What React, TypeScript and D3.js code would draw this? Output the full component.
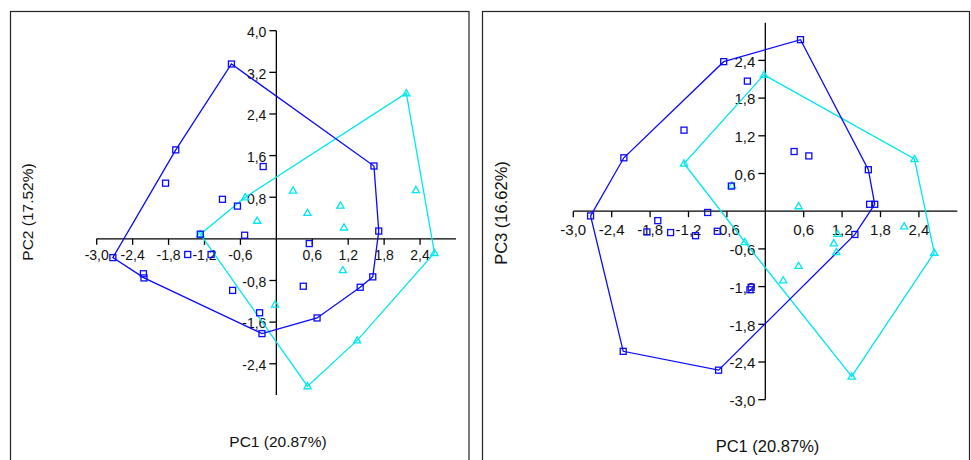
import React from 'react';
import * as d3 from 'd3';

// group 1 (blue squares) scores
const bluePC1 = [-2.73, -2.22, -2.21, -1.85, -1.68, -1.48, -1.27, -1.09, -0.90, -0.75, -0.73, -0.65, -0.53, -0.28, -0.24, -0.22, 0.45, 0.55, 0.68, 1.40, 1.61, 1.63, 1.71];
const bluePC2 = [-0.36, -0.67, -0.75, 1.07, 1.71, -0.30, 0.09, -0.30, 0.76, 3.36, -0.99, 0.63, 0.07, -1.42, -1.82, 1.39, -0.91, -0.09, -1.52, -0.93, -0.73, 1.40, 0.15];
const bluePC3 = [-0.075, -2.23, 0.85, -0.33, -0.15, -0.34, 1.29, -0.39, -0.02, -0.32, -2.53, 2.38, 0.40, 2.07, -1.25, -1.21, 0.95, 2.73, 0.88, -0.37, 0.66, 0.11, 0.11];

// group 2 (cyan triangles) scores
const cyanPC1 = [-1.27, -0.52, -0.32, -0.02, 0.28, 0.52, 0.52, 1.07, 1.11, 1.13, 1.35, 2.17, 2.33, 2.64];
const cyanPC2 = [0.09, 0.80, 0.35, -1.26, 0.93, 0.50, -2.83, 0.64, -0.60, 0.22, -1.95, 2.80, 0.94, -0.27];
const cyanPC3 = [0.76, 0.41, -0.49, 2.17, -1.10, 0.08, -0.87, -0.51, -0.65, -0.36, -2.63, -0.24, 0.83, -0.66];

const xTicks = [-3.0, -2.4, -1.8, -1.2, -0.6, 0.6, 1.2, 1.8, 2.4];
const pc2Ticks = [-2.4, -1.6, -0.8, 0.8, 1.6, 2.4, 3.2, 4.0];
const pc3Ticks = [-3.0, -2.4, -1.8, -1.2, -0.6, 0.6, 1.2, 1.8, 2.4];

const BLUE = '#0a0aff';
const CYAN = '#00e8f0';
const FONT = '"Liberation Sans", Arial, sans-serif';

const fmt = (v: number) => v.toFixed(1).replace('.', ',');

type Pt = [number, number];

interface PanelProps {
  frame: [number, number, number];
  xRange: [number, number];
  yDomain: [number, number];
  yRange: [number, number];
  yTicks: number[];
  blueY: number[];
  cyanY: number[];
  xTitle: string;
  yTitle: string;
  tickSize: number;
  titleSize: number;
  xLabelDy: number;
  xTitlePos: Pt;
  yTitlePos: Pt;
}

const Panel: React.FC<PanelProps> = (p) => {
  const x = d3.scaleLinear().domain([-3, 3]).range(p.xRange);
  const y = d3.scaleLinear().domain(p.yDomain).range(p.yRange);
  const x0 = x(0);
  const y0 = y(0);

  const blue: Pt[] = bluePC1.map((v, i) => [x(v), y(p.blueY[i])]);
  const cyan: Pt[] = cyanPC1.map((v, i) => [x(v), y(p.cyanY[i])]);
  const hullPath = (pts: Pt[]) => {
    const h = d3.polygonHull(pts);
    return h ? d3.line()(h.concat([h[0]])) || '' : '';
  };

  const [fx, fx2, fy] = p.frame;

  return (
    <g>
      <rect x={fx} y={fy} width={fx2 - fx} height={480} fill="none" stroke="#222" strokeWidth={1.2} />

      {/* axes through the origin */}
      <line x1={p.xRange[0]} x2={p.xRange[1]} y1={y0} y2={y0} stroke="#000" strokeWidth={1.3} />
      <line x1={x0} x2={x0} y1={p.yRange[0]} y2={p.yRange[1]} stroke="#000" strokeWidth={1.3} />

      {xTicks.map(t => (
        <g key={'x' + t}>
          <line x1={x(t)} x2={x(t)} y1={y0} y2={y0 + 6} stroke="#000" strokeWidth={1.3} />
          <text x={x(t)} y={y0 + p.xLabelDy} textAnchor="middle" fontSize={p.tickSize} fontFamily={FONT} fill="#111">
            {fmt(t)}
          </text>
        </g>
      ))}
      {p.yTicks.map(t => (
        <g key={'y' + t}>
          <line x1={x0 - 7} x2={x0} y1={y(t)} y2={y(t)} stroke="#000" strokeWidth={1.3} />
          <text x={x0 - 10} y={y(t) + 6.3} textAnchor="end" fontSize={p.tickSize} fontFamily={FONT} fill="#111">
            {fmt(t)}
          </text>
        </g>
      ))}

      <path d={hullPath(cyan)} fill="none" stroke={CYAN} strokeWidth={1.3} />
      <path d={hullPath(blue)} fill="none" stroke={BLUE} strokeWidth={1.3} />

      {cyan.map(([cx, cy], i) => (
        <path key={'c' + i} d={`M${cx},${cy - 3.6}L${cx + 3.6},${cy + 2.6}L${cx - 3.6},${cy + 2.6}Z`}
          fill="none" stroke={CYAN} strokeWidth={1.3} />
      ))}
      {blue.map(([bx, by], i) => (
        <rect key={'b' + i} x={bx - 3} y={by - 3} width={6} height={6} fill="none" stroke={BLUE} strokeWidth={1.3} />
      ))}

      <text x={p.xTitlePos[0]} y={p.xTitlePos[1]} textAnchor="middle" fontSize={p.titleSize} fontFamily={FONT} fill="#111">
        {p.xTitle}
      </text>
      <text transform={`translate(${p.yTitlePos[0]},${p.yTitlePos[1]}) rotate(-90)`} textAnchor="middle"
        fontSize={p.titleSize} fontFamily={FONT} fill="#111">
        {p.yTitle}
      </text>
    </g>
  );
};

export default function App() {
  return (
    <svg width={971} height={460} style={{ position: 'absolute', left: 0, top: 0, background: '#fff' }}>
      <Panel
        frame={[10.5, 469, 11.5]}
        xRange={[96.7, 456]}
        yDomain={[-3, 4]}
        yRange={[395, 30.7]}
        yTicks={pc2Ticks}
        blueY={bluePC2}
        cyanY={cyanPC2}
        xTitle="PC1 (20.87%)"
        yTitle="PC2 (17.52%)"
        tickSize={14}
        titleSize={15.5}
        xLabelDy={21}
        xTitlePos={[278, 447]}
        yTitlePos={[33, 212]}
      />
      <Panel
        frame={[482.5, 969.5, 11.5]}
        xRange={[573.3, 957.3]}
        yDomain={[-3, 3]}
        yRange={[399.7, 22.7]}
        yTicks={pc3Ticks}
        blueY={bluePC3}
        cyanY={cyanPC3}
        xTitle="PC1 (20.87%)"
        yTitle="PC3 (16.62%)"
        tickSize={15}
        titleSize={16.5}
        xLabelDy={24}
        xTitlePos={[767.5, 452]}
        yTitlePos={[507, 213]}
      />
    </svg>
  );
}
